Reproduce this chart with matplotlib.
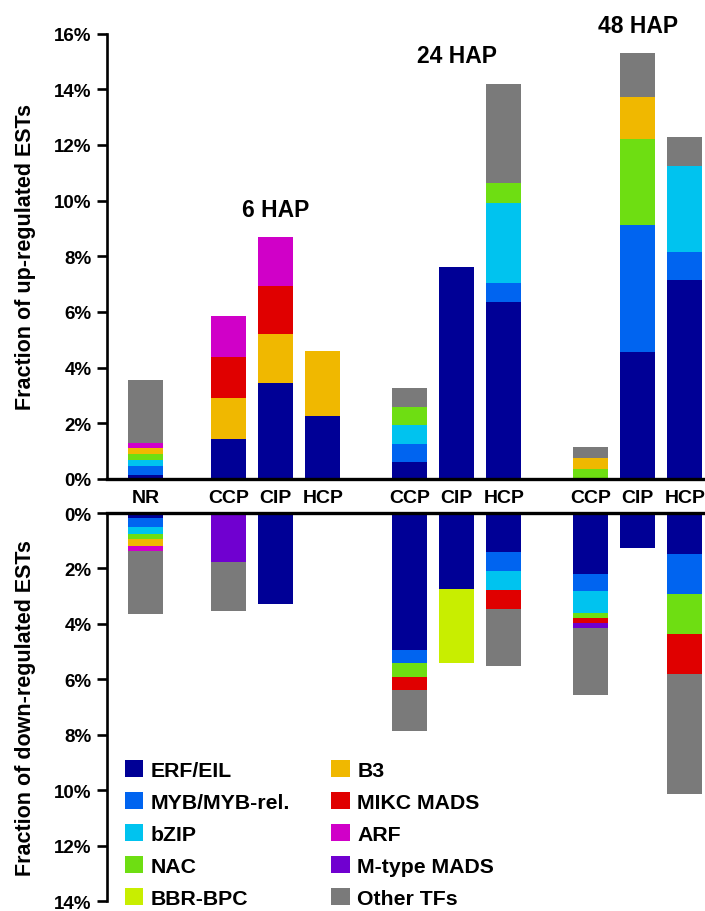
import matplotlib
matplotlib.use('Agg')
import matplotlib.pyplot as plt
import numpy as np

plt.rcParams['font.family'] = ['Liberation Sans', 'DejaVu Sans']
plt.rcParams['font.weight'] = 'bold'

families = ['ERF/EIL', 'MYB/MYB-rel.', 'bZIP', 'NAC', 'BBR-BPC',
            'B3', 'MIKC MADS', 'ARF', 'M-type MADS', 'Other TFs']
colors = ['#000096', '#0064F0', '#00C3EF', '#6EDE12', '#C8EE00',
          '#F0B800', '#E00000', '#D000C8', '#7000D0', '#7A7A7A']

bar_labels = ['NR', 'CCP', 'CIP', 'HCP', 'CCP', 'CIP', 'HCP', 'CCP', 'CIP', 'HCP']
group_labels = ['6 HAP', '24 HAP', '48 HAP']

# Up-regulated ESTs (%), one list per TF family, in bar order
up_erf   = [0.13, 1.45, 3.45, 2.26, 0.61, 7.62, 6.36, 0.00, 4.56, 7.15]
up_myb   = [0.32, 0.00, 0.00, 0.00, 0.65, 0.00, 0.68, 0.00, 4.57, 1.01]
up_bzip  = [0.25, 0.00, 0.00, 0.00, 0.68, 0.00, 2.88, 0.00, 0.00, 3.09]
up_nac   = [0.18, 0.00, 0.00, 0.00, 0.65, 0.00, 0.72, 0.36, 3.09, 0.00]
up_bbr   = [0.00, 0.00, 0.00, 0.00, 0.00, 0.00, 0.00, 0.00, 0.00, 0.00]
up_b3    = [0.25, 1.45, 1.76, 2.34, 0.00, 0.00, 0.00, 0.39, 1.51, 0.00]
up_mikc  = [0.00, 1.47, 1.72, 0.00, 0.00, 0.00, 0.00, 0.00, 0.00, 0.00]
up_arf   = [0.17, 1.47, 1.77, 0.00, 0.00, 0.00, 0.00, 0.00, 0.00, 0.00]
up_mtype = [0.00, 0.00, 0.00, 0.00, 0.00, 0.00, 0.00, 0.00, 0.00, 0.00]
up_other = [2.26, 0.00, 0.00, 0.00, 0.68, 0.00, 3.55, 0.40, 1.58, 1.04]

# Down-regulated ESTs (%)
down_erf   = [0.17, 0.00, 3.27, 0.00, 4.92, 2.73, 1.40, 2.19, 1.26, 1.47]
down_myb   = [0.33, 0.00, 0.00, 0.00, 0.50, 0.00, 0.68, 0.61, 0.00, 1.44]
down_bzip  = [0.25, 0.00, 0.00, 0.00, 0.00, 0.00, 0.68, 0.79, 0.00, 0.00]
down_nac   = [0.19, 0.00, 0.00, 0.00, 0.50, 0.00, 0.00, 0.18, 0.00, 1.44]
down_bbr   = [0.00, 0.00, 0.00, 0.00, 0.00, 2.69, 0.00, 0.00, 0.00, 0.00]
down_b3    = [0.24, 0.00, 0.00, 0.00, 0.00, 0.00, 0.00, 0.00, 0.00, 0.00]
down_mikc  = [0.00, 0.00, 0.00, 0.00, 0.47, 0.00, 0.69, 0.21, 0.00, 1.44]
down_arf   = [0.18, 0.00, 0.00, 0.00, 0.00, 0.00, 0.00, 0.00, 0.00, 0.00]
down_mtype = [0.00, 1.76, 0.00, 0.00, 0.00, 0.00, 0.00, 0.18, 0.00, 0.00]
down_other = [2.27, 1.76, 0.00, 0.00, 1.47, 0.00, 2.08, 2.41, 0.00, 4.34]

up = [up_erf, up_myb, up_bzip, up_nac, up_bbr, up_b3, up_mikc, up_arf, up_mtype, up_other]
down = [down_erf, down_myb, down_bzip, down_nac, down_bbr, down_b3, down_mikc,
        down_arf, down_mtype, down_other]

# layout: bar positions (gaps between consecutive bars)
gaps = [1.77, 1, 1, 1.85, 1, 1, 1.85, 1, 1]
pos = np.concatenate([[0], np.cumsum(gaps)])
width = 0.745

fig = plt.figure(figsize=(7.05, 9.12), dpi=100)
ax_up = fig.add_axes([0.1518, 0.4737, 0.8454, 0.4883])
ax_dn = fig.add_axes([0.1518, 0.0105, 0.8454, 0.4259])

lw = 1.9
for ax, data in ((ax_up, up), (ax_dn, down)):
    bottom = np.zeros(len(pos))
    for vals, c, name in zip(data, colors, families):
        v = np.array(vals)
        ax.bar(pos, v, width, bottom=bottom, color=c, label=name, linewidth=0)
        bottom += v
    ax.set_xlim(pos[0] - 0.82, pos[-1] + 0.39)
    ax.spines['right'].set_visible(False)
    ax.spines['left'].set_linewidth(lw)
    ax.tick_params(axis='y', direction='out', length=7, width=lw, labelsize=13.5, pad=4)
    ax.yaxis.set_major_formatter(matplotlib.ticker.FuncFormatter(lambda v, p: f'{v:.0f}%'))

ax_up.set_ylim(0, 16)
ax_up.set_yticks(np.arange(0, 17, 2))
ax_up.spines['top'].set_visible(False)
ax_up.spines['bottom'].set_linewidth(2.4)
ax_up.set_xticks(pos)
ax_up.set_xticklabels(bar_labels, fontsize=14, fontweight='bold')
ax_up.tick_params(axis='x', length=0, pad=7)
ax_up.set_ylabel('Fraction of up-regulated ESTs', fontsize=15.5, fontweight='bold', labelpad=13)

ax_dn.set_ylim(14, 0)
ax_dn.set_yticks(np.arange(0, 15, 2))
ax_dn.spines['bottom'].set_visible(False)
ax_dn.spines['top'].set_linewidth(2.4)
ax_dn.set_xticks([])
ax_dn.set_ylabel('Fraction of down-regulated ESTs', fontsize=15.5, fontweight='bold', labelpad=13)

# group labels above the CIP bar of each group
label_idx = [2, 5, 8]
label_y = [9.46, 14.97, 16.05]
for lab, i, y in zip(group_labels, label_idx, label_y):
    ax_up.text(pos[i], y, lab, ha='center', va='baseline', fontsize=16.5,
               fontweight='bold', clip_on=False)

ax_dn.legend(loc='upper left', bbox_to_anchor=(0.03, 0.365), ncol=2, frameon=False,
             borderpad=0, borderaxespad=0, handlelength=0.87,
             handleheight=0.87, handletextpad=0.34, labelspacing=0.57,
             columnspacing=1.95, prop={'weight': 'bold', 'size': 15.3})

fig.savefig('out.png', dpi=100)
